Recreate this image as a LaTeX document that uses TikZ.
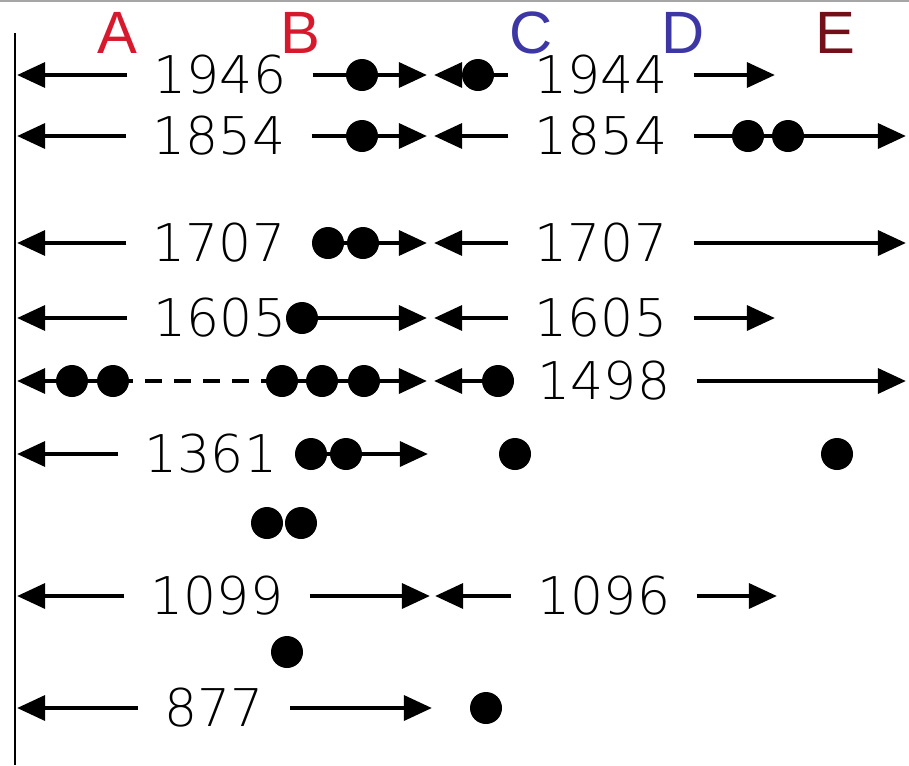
\documentclass[tikz,border=0pt]{standalone}
\usepackage{xcolor}
\usepackage{fontspec}
\setmainfont{Liberation Sans}
\newfontfamily\yrfont{DejaVu Sans ExtraLight}
\usepackage{tikz}
\usetikzlibrary{arrows.meta,positioning}
\definecolor{ltrred}{RGB}{215,25,45}
\definecolor{ltrblue}{RGB}{60,55,165}
\definecolor{ltrdark}{RGB}{115,15,25}
\tikzset{
  yr/.style    ={inner sep=0pt, outer xsep=15pt, text=black,
                 font=\yrfont\fontsize{29.6}{30}\selectfont},
  ltr/.style   ={inner sep=0pt, anchor=base, font=\fontsize{34}{36}\selectfont},
  dot/.style   ={circle, fill=black, inner sep=0pt, minimum size=0.64cm},
  wire/.style  ={line width=2.7pt},
  flow/.style  ={wire, -{Triangle[length=16pt,width=14pt]}},
  gaps/.style  ={wire, dash pattern=on 9.7pt off 6.8pt, dash phase=7.4pt},
}
\begin{document}
\begin{tikzpicture}[x=0.02cm,y=-0.02cm]
    \useasboundingbox (0,0) rectangle (909,765);
    \draw[black!35, line width=1pt] (0,1) -- (909,1);
    \draw[line width=1pt] (15,33) -- (15,765);
    % letters
    \node[ltr, text=ltrred]  (la) at (117,53) {A};
    \node[ltr, text=ltrred]  (lb) at (300,53) {B};
    \node[ltr, text=ltrblue] (lc) at (531,53) {C};
    \node[ltr, text=ltrblue] (ld) at (683,53) {D};
    \node[ltr, text=ltrdark] (le) at (835,53) {E};
    % 1946 / 1944
    \node[yr] (l1946) at (220,75) {1946};
    \node[yr] (r1944) at (601,75) {1944};
    \coordinate (w1) at (17,75); \coordinate (e1) at (427,75);
    \coordinate (c1) at (434,75); \coordinate (s1) at (775,75);
    \draw[flow] (l1946) -- (w1);
    \draw[flow] (l1946) -- (e1);
    \draw[flow] (r1944) -- (c1);
    \draw[flow] (r1944) -- (s1);
    \node[dot] (d1a) at (362,75) {};
    \node[dot] (d1b) at (478,75) {};
    % 1854 / 1854
    \node[yr] (l1854) at (219,136) {1854};
    \node[yr] (r1854) at (601,136) {1854};
    \coordinate (w2) at (17,136); \coordinate (e2) at (427,136);
    \coordinate (c2) at (434,136); \coordinate (x2) at (906,136);
    \draw[flow] (l1854) -- (w2);
    \draw[flow] (l1854) -- (e2);
    \draw[flow] (r1854) -- (c2);
    \draw[flow] (r1854) -- (x2);
    \node[dot] (d2a) at (362,136) {};
    \node[dot] (d2b) at (748,136) {};
    \node[dot] (d2c) at (788,136) {};
    % 1707 / 1707
    \node[yr] (l1707) at (219,243) {1707};
    \node[yr] (r1707) at (601,243) {1707};
    \coordinate (w3) at (17,243); \coordinate (e3) at (427,243);
    \coordinate (c3) at (434,243); \coordinate (x3) at (906,243);
    \draw[flow] (l1707) -- (w3);
    \draw[flow] (l1707) -- (e3);
    \draw[flow] (r1707) -- (c3);
    \draw[flow] (r1707) -- (x3);
    \node[dot] (d3a) at (328,243) {};
    \node[dot] (d3b) at (363,243) {};
    % 1605 / 1605
    \node[yr] (l1605) at (220,318) {1605};
    \node[yr] (r1605) at (601,318) {1605};
    \coordinate (w4) at (17,318); \coordinate (e4) at (427,318);
    \coordinate (c4) at (434,318); \coordinate (s4) at (775,318);
    \node[dot] (d4a) at (302,318) {};
    \draw[flow] (l1605) -- (w4);
    \draw[flow] (d4a) -- (e4);
    \draw[flow] (r1605) -- (c4);
    \draw[flow] (r1605) -- (s4);
    % 1498
    \node[yr] (r1498) at (604,381) {1498};
    \coordinate (w5) at (17,381); \coordinate (e5) at (427,381);
    \coordinate (c5) at (434,381); \coordinate (x5) at (906,381);
    \node[dot] (d5a) at (72,381) {};
    \node[dot] (d5b) at (113,381) {};
    \node[dot] (d5c) at (282,381) {};
    \node[dot] (d5d) at (322,381) {};
    \node[dot] (d5e) at (364,381) {};
    \node[dot] (d5f) at (498,381) {};
    \draw[flow] (d5a) -- (w5);
    \draw[wire] (d5a) -- (d5b);
    \draw[gaps] (d5b) -- (d5c);
    \draw[wire] (d5c) -- (d5d) -- (d5e);
    \draw[flow] (d5e) -- (e5);
    \draw[flow] (d5f) -- (c5);
    \draw[flow] (r1498) -- (x5);
    % 1361
    \node[yr] (l1361) at (211,454) {1361};
    \coordinate (w6) at (17,454); \coordinate (e6) at (428,454);
    \node[dot] (d6a) at (311,454) {};
    \node[dot] (d6b) at (346,454) {};
    \draw[flow] (l1361) -- (w6);
    \draw[flow] (d6a) -- (e6);
    \node[dot] (d6c) at (515,454) {};
    \node[dot] (d6d) at (837,454) {};
    % pair of dots
    \node[dot] (d7a) at (267,523) {};
    \node[dot] (d7b) at (301,523) {};
    % 1099 / 1096
    \node[yr] (l1099) at (217,596) {1099};
    \node[yr] (r1096) at (604,596) {1096};
    \coordinate (w8) at (17,596); \coordinate (e8) at (430,596);
    \coordinate (c8) at (435,596); \coordinate (s8) at (777,596);
    \draw[flow] (l1099) -- (w8);
    \draw[flow] (l1099) -- (e8);
    \draw[flow] (r1096) -- (c8);
    \draw[flow] (r1096) -- (s8);
    \node[dot] (d8a) at (287,652) {};
    % 877
    \node[yr] (l877) at (214,708) {877};
    \coordinate (w9) at (17,708); \coordinate (e9) at (432,708);
    \draw[flow] (l877) -- (w9);
    \draw[flow] (l877) -- (e9);
    \node[dot] (d9a) at (486,708) {};
\end{tikzpicture}
\end{document}
